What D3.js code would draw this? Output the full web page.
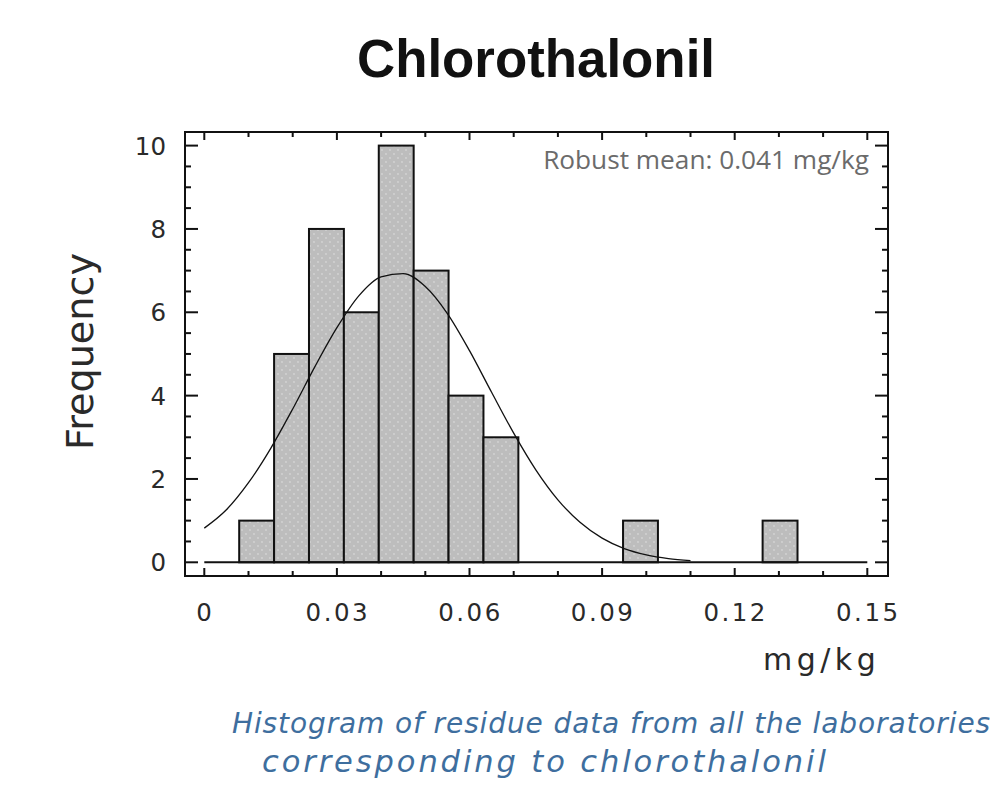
<!DOCTYPE html>
<html>
<head>
<meta charset="utf-8">
<script src="https://cdn.jsdelivr.net/npm/d3@7/dist/d3.min.js"></script>
<style>
  html, body { margin: 0; padding: 0; background: #fff; }
  svg { display: block; }
</style>
</head>
<body>
<div id="chart"></div>
<script>
// histogram: 19 equal bins over 0 .. 0.15 mg/kg
var binCount = 19;
var binMax = 0.15;
var frequencies = [0, 1, 5, 8, 6, 10, 7, 4, 3, 0, 0, 0, 1, 0, 0, 0, 1, 0, 0];

// fitted normal curve
var curveX = [0, 0.005, 0.01, 0.015, 0.02, 0.025, 0.03, 0.035, 0.04, 0.045, 0.05, 0.055,
              0.06, 0.065, 0.07, 0.075, 0.08, 0.085, 0.09, 0.095, 0.1, 0.105, 0.11];
var curveY = [0.82, 1.26, 1.91, 2.73, 3.68, 4.69, 5.63, 6.40, 6.85, 6.93, 6.62, 5.97,
              5.08, 4.08, 3.10, 2.22, 1.50, 0.96, 0.58, 0.33, 0.18, 0.09, 0.04];

var xTickLabels = ['0', '0.03', '0.06', '0.09', '0.12', '0.15'];
var yTickLabels = ['0', '2', '4', '6', '8', '10'];

var width = 999, height = 792;
var frame = { left: 185, right: 888, top: 132, bottom: 576 };

var svg = d3.select('#chart').append('svg')
    .attr('width', width)
    .attr('height', height);

var x = d3.scaleLinear().domain([0, 0.15]).range([204.3, 867.3]);
var y = d3.scaleLinear().domain([0, 10]).range([562.3, 145.6]);

// stipple fill for the bars
var pat = svg.append('defs').append('pattern')
    .attr('id', 'stipple')
    .attr('width', 8).attr('height', 8)
    .attr('patternUnits', 'userSpaceOnUse');
pat.append('rect').attr('width', 8).attr('height', 8).attr('fill', '#bdbdbd');
pat.append('circle').attr('cx', 2).attr('cy', 2).attr('r', 0.9).attr('fill', '#d4d4d4');
pat.append('circle').attr('cx', 6).attr('cy', 6).attr('r', 0.9).attr('fill', '#d4d4d4');

// fit a text element to a target width by scaling its font size
function fitWidth(sel, target) {
    var fs = parseFloat(sel.attr('font-size'));
    var w = sel.node().getComputedTextLength();
    if (w > 0) sel.attr('font-size', (fs * target / w).toFixed(2));
    return sel;
}

// or by spreading / tightening the letters
function spreadTo(sel, target) {
    var n = sel.text().length;
    var w = sel.node().getComputedTextLength();
    sel.attr('letter-spacing', ((target - w) / (n - 1)).toFixed(2));
    return sel;
}

// title
fitWidth(svg.append('text')
    .attr('x', 536).attr('y', 77)
    .attr('text-anchor', 'middle')
    .attr('font-family', 'Liberation Sans, Arial, sans-serif')
    .attr('font-weight', 'bold')
    .attr('font-size', 50)
    .attr('fill', '#111')
    .text('Chlorothalonil'), 358);

// bars
var binW = binMax / binCount;
var bins = frequencies.map(function(f, i) {
    return { x0: i * binW, x1: (i + 1) * binW, n: f };
}).filter(function(d) { return d.n > 0; });

svg.append('g').selectAll('rect')
    .data(bins)
    .enter().append('rect')
    .attr('x', function(d) { return x(d.x0); })
    .attr('width', function(d) { return x(d.x1) - x(d.x0); })
    .attr('y', function(d) { return y(d.n); })
    .attr('height', function(d) { return y(0) - y(d.n); })
    .attr('fill', 'url(#stipple)')
    .attr('stroke', '#111')
    .attr('stroke-width', 2);

// zero line
svg.append('line')
    .attr('x1', x(0)).attr('x2', x(0.15))
    .attr('y1', y(0)).attr('y2', y(0))
    .attr('stroke', '#111').attr('stroke-width', 2);

// normal curve
var line = d3.line()
    .x(function(d, i) { return x(curveX[i]); })
    .y(function(d) { return y(d); })
    .curve(d3.curveMonotoneX);

svg.append('path')
    .datum(curveY)
    .attr('d', line)
    .attr('fill', 'none')
    .attr('stroke', '#111')
    .attr('stroke-width', 1.3);

// frame
svg.append('rect')
    .attr('x', frame.left).attr('y', frame.top)
    .attr('width', frame.right - frame.left)
    .attr('height', frame.bottom - frame.top)
    .attr('fill', 'none')
    .attr('stroke', '#111')
    .attr('stroke-width', 2);

// ticks
var ticks = svg.append('g').attr('stroke', '#111').attr('stroke-width', 2);
var xMinor = d3.range(0, 16).map(function(i) { return i / 100; });
var xMajor = xTickLabels.map(Number);
xMinor.forEach(function(v) {
    var len = xMajor.some(function(m) { return Math.abs(m - v) < 1e-9; }) ? 8 : 5;
    ticks.append('line').attr('x1', x(v)).attr('x2', x(v))
        .attr('y1', frame.top).attr('y2', frame.top + len);
    ticks.append('line').attr('x1', x(v)).attr('x2', x(v))
        .attr('y1', frame.bottom).attr('y2', frame.bottom - len);
});
var yMinor = d3.range(0, 21).map(function(i) { return i / 2; });
yMinor.forEach(function(v) {
    var len = (v % 2 === 0) ? 13 : 6;
    ticks.append('line').attr('y1', y(v)).attr('y2', y(v))
        .attr('x1', frame.left).attr('x2', frame.left + len);
    ticks.append('line').attr('y1', y(v)).attr('y2', y(v))
        .attr('x1', frame.right).attr('x2', frame.right - len);
});

// tick labels
var tickFont = 'DejaVu Sans, Verdana, sans-serif';
svg.append('g').selectAll('text')
    .data(xTickLabels)
    .enter().append('text')
    .attr('x', function(d) { return x(+d) + 1; })
    .attr('y', 621)
    .attr('text-anchor', 'middle')
    .attr('font-family', tickFont)
    .attr('font-size', 24.5)
    .attr('letter-spacing', 2.5)
    .attr('fill', '#2a2a2a')
    .text(function(d) { return d; });

svg.append('g').selectAll('text')
    .data(yTickLabels)
    .enter().append('text')
    .attr('x', 166)
    .attr('y', function(d) { return y(+d) + 9; })
    .attr('text-anchor', 'end')
    .attr('font-family', tickFont)
    .attr('font-size', 24.5)
    .attr('fill', '#2a2a2a')
    .text(function(d) { return d; });

// axis titles
fitWidth(svg.append('text')
    .attr('transform', 'translate(93,351.5) rotate(-90)')
    .attr('text-anchor', 'middle')
    .attr('font-family', tickFont)
    .attr('font-size', 36)
    .attr('fill', '#2a2a2a')
    .text('Frequency'), 197);

svg.append('text')
    .attr('x', 763).attr('y', 670)
    .attr('font-family', tickFont)
    .attr('font-size', 30)
    .attr('letter-spacing', 4.5)
    .attr('fill', '#2a2a2a')
    .text('mg/kg');

// annotation
fitWidth(svg.append('text')
    .attr('x', 869).attr('y', 169)
    .attr('text-anchor', 'end')
    .attr('font-family', 'Open Sans, sans-serif')
    .attr('font-size', 22)
    .attr('fill', '#6b6b6b')
    .text('Robust mean: 0.041 mg/kg'), 326);

// caption, each line brought to the width it has in the original
var capFont = 'DejaVu Sans, Verdana, sans-serif';
spreadTo(svg.append('text')
    .attr('x', 232).attr('y', 733)
    .attr('font-family', capFont)
    .attr('font-style', 'italic')
    .attr('font-size', 28)
    .attr('fill', '#3e6e9e')
    .text('Histogram of residue data from all the laboratories'), 758);

spreadTo(svg.append('text')
    .attr('x', 262).attr('y', 772)
    .attr('font-family', capFont)
    .attr('font-style', 'italic')
    .attr('font-size', 30.5)
    .attr('fill', '#3e6e9e')
    .text('corresponding to chlorothalonil'), 564);
</script>
</body>
</html>
